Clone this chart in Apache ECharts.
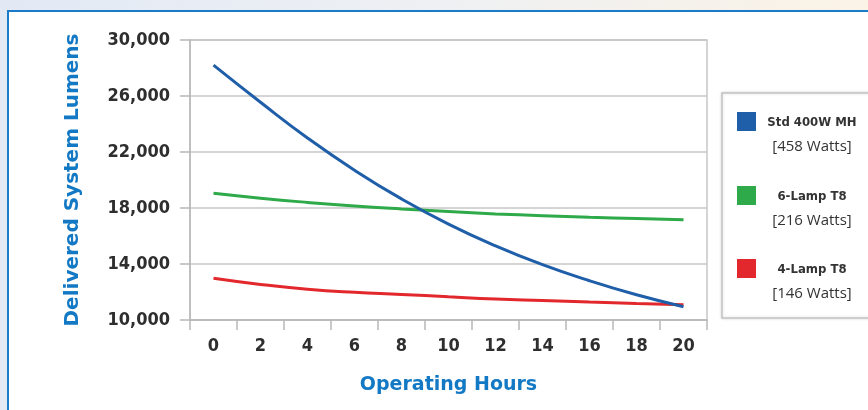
<!DOCTYPE html>
<html>
<head>
<meta charset="utf-8">
<script src="https://cdn.jsdelivr.net/npm/echarts@6/dist/echarts.min.js"></script>
<style>
  html, body { margin: 0; padding: 0; }
  body {
    width: 868px; height: 410px; overflow: hidden; position: relative;
    background: linear-gradient(to right, #e2e9f5 0%, #eef0f3 50%, #fbf3e6 100%);
  }
  #panel {
    position: absolute; left: 7px; top: 10px; width: 900px; height: 440px;
    background: #ffffff; border: 2px solid #1a7cc8; box-sizing: border-box;
  }
  #chart { position: absolute; left: 0; top: 0; width: 868px; height: 410px; }
</style>
</head>
<body>
<div id="panel"></div>
<div id="chart"></div>
<script>
// Operating hours (x axis categories)
const hours = ['0', '2', '4', '6', '8', '10', '12', '14', '16', '18', '20'];

// Delivered system lumens per fixture type
const std400MH = [28200, 25550, 23000, 20700, 18650, 16850, 15300, 13950, 12800, 11800, 10950];
const lamp6T8  = [19050, 18700, 18400, 18140, 17930, 17750, 17580, 17450, 17340, 17250, 17160];
const lamp4T8  = [12980, 12540, 12200, 11980, 11830, 11660, 11500, 11390, 11280, 11180, 11090];

// Legend entries: name, wattage line
const legendNames = ['Std 400W MH', '6-Lamp T8', '4-Lamp T8'];
const legendWatts = ['[458 Watts]', '[216 Watts]', '[146 Watts]'];

const colors = ['#1f5ea8', '#2eaa4a', '#e2282c'];
const seriesData = [std400MH, lamp6T8, lamp4T8];

const titleBlue = '#1479c4';
const tickFont = { fontFamily: 'DejaVu Sans Condensed', fontWeight: 'bold', fontSize: 18, color: '#2e2e2e' };

const chart = echarts.init(document.getElementById('chart'), null, { renderer: 'canvas' });

// Legend box with swatches and two-line captions
const legendGraphics = [{
  type: 'rect',
  shape: { x: 722, y: 93, width: 170, height: 225 },
  style: { fill: '#ffffff', stroke: '#c4c4c4', lineWidth: 1.5, shadowBlur: 3, shadowColor: 'rgba(0,0,0,0.15)' },
  z: 0
}];
const rowY = [112, 186, 259];
legendNames.forEach((name, i) => {
  legendGraphics.push({
    type: 'rect',
    shape: { x: 737, y: rowY[i], width: 19, height: 19 },
    style: { fill: colors[i] },
    z: 1
  });
  legendGraphics.push({
    type: 'text',
    x: 812, y: rowY[i] + 11,
    style: {
      text: name, align: 'center', verticalAlign: 'middle',
      font: 'bold 13px "Liberation Sans Narrow", "DejaVu Sans Condensed", sans-serif',
      fill: '#333333'
    },
    z: 1
  });
  legendGraphics.push({
    type: 'text',
    x: 812, y: rowY[i] + 35,
    style: {
      text: legendWatts[i], align: 'center', verticalAlign: 'middle',
      font: '15px "Open Sans", sans-serif',
      fill: '#333333'
    },
    z: 1
  });
});

const option = {
  backgroundColor: 'transparent',
  animation: false,
  grid: {
    left: 190, right: 161, top: 40, bottom: 90,
    show: true, borderColor: '#c6c6c6', borderWidth: 1.5
  },
  xAxis: {
    type: 'category',
    data: hours,
    boundaryGap: true,
    name: 'Operating Hours',
    nameLocation: 'middle',
    nameGap: 56,
    nameTextStyle: { color: titleBlue, fontFamily: 'DejaVu Sans', fontWeight: 'bold', fontSize: 19 },
    axisLine: { show: true, lineStyle: { color: '#b8b8b8', width: 1.5 } },
    axisTick: { show: true, length: 10, alignWithLabel: false, lineStyle: { color: '#b8b8b8', width: 1.5 } },
    axisLabel: Object.assign({ margin: 17 }, tickFont),
    splitLine: { show: false }
  },
  yAxis: {
    type: 'value',
    min: 10000, max: 30000, interval: 4000,
    name: 'Delivered System Lumens',
    nameLocation: 'middle',
    nameGap: 107,
    nameRotate: 90,
    nameTextStyle: { color: titleBlue, fontFamily: 'DejaVu Sans', fontWeight: 'bold', fontSize: 20 },
    axisLine: { show: true, lineStyle: { color: '#b8b8b8', width: 1.5 } },
    axisTick: { show: true, length: 10, lineStyle: { color: '#b8b8b8', width: 1.5 } },
    axisLabel: Object.assign({
      margin: 20,
      formatter: v => v.toLocaleString('en-US')
    }, tickFont),
    splitLine: { show: true, lineStyle: { color: '#c6c6c6', width: 1.5 } }
  },
  series: seriesData.map((d, i) => ({
    name: legendNames[i],
    type: 'line',
    data: d,
    smooth: true,
    showSymbol: false,
    lineStyle: { color: colors[i], width: 3 },
    z: 3 - i + 2
  })),
  graphic: legendGraphics
};

chart.setOption(option);
</script>
</body>
</html>
